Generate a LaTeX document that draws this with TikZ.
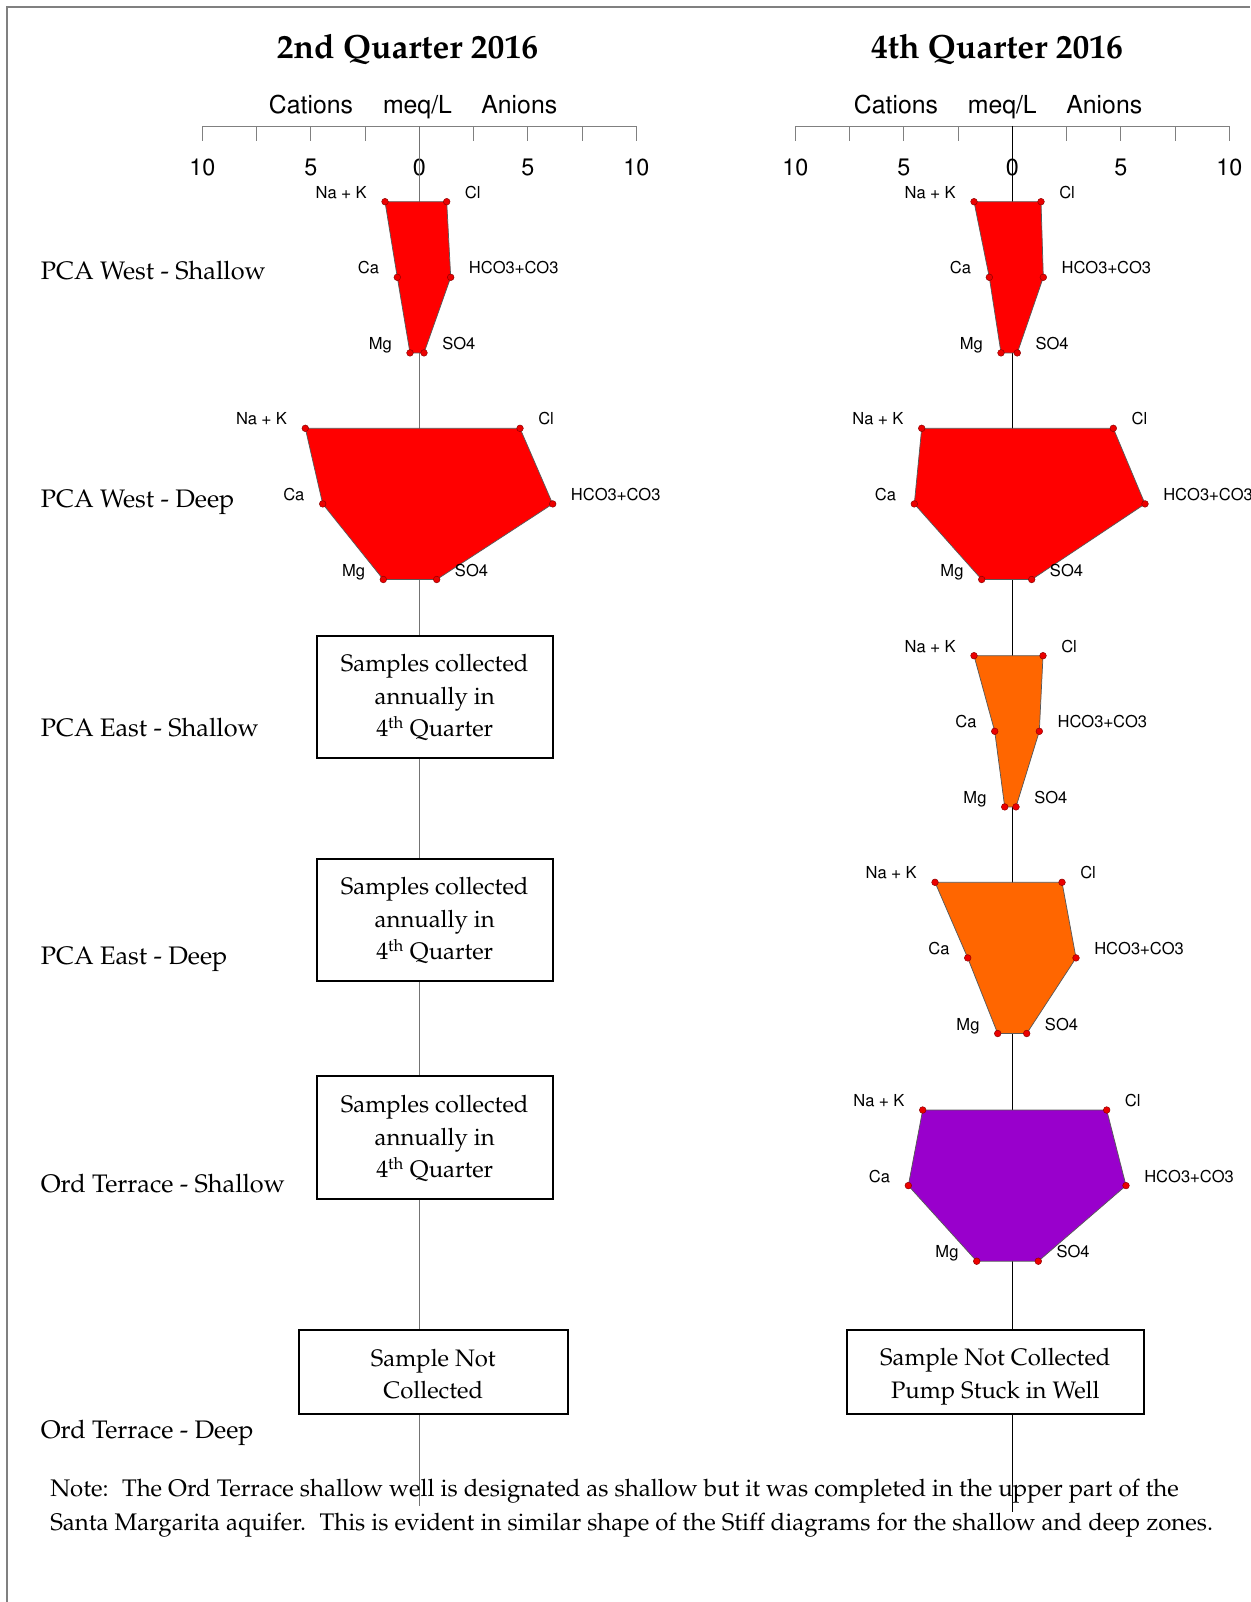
\documentclass[tikz,border=0pt]{standalone}
\usepackage[T1]{fontenc}
\usepackage{palatino}
\usetikzlibrary{calc}
\definecolor{polyred}{RGB}{255,0,0}
\definecolor{polyorange}{RGB}{255,102,0}
\definecolor{polypurple}{RGB}{153,0,204}
\definecolor{framegray}{RGB}{128,128,128}
\colorlet{stiffcol}{polyred}
\tikzset{
  polyedge/.style={draw=black!65, line width=0.55pt},
  vertexdot/.style={fill=red!92!black, draw=red!55!black, line width=0.35pt},
  ionlab/.style={inner sep=0pt, font=\sffamily\fontsize{12.4}{14}\selectfont},
  axlab/.style={inner sep=0pt, font=\sffamily\fontsize{18.6}{22}\selectfont},
  numlab/.style={inner sep=0pt, font=\sffamily\fontsize{17.5}{21}\selectfont},
  titlelab/.style={inner sep=0pt, font=\bfseries\fontsize{25.2}{30}\selectfont},
  rowlab/.style={inner sep=0pt, anchor=base west, font=\fontsize{19}{23}\selectfont},
  notelab/.style={inner sep=0pt, anchor=base west, font=\fontsize{18}{23}\selectfont},
  infobox/.style={draw, line width=1.5pt, fill=white, inner sep=0pt},
  boxtext/.style={inner sep=0pt, align=center, font=\fontsize{17.9}{24.4}\selectfont},
  axisline/.style={draw=framegray, line width=0.75pt},
}
\newcommand\stiffdiag[9]{%
  \coordinate (#1-nak) at ({#2-#4},{#3});
  \coordinate (#1-ca) at ({#2-#5},{#3+75.6});
  \coordinate (#1-mg) at ({#2-#6},{#3+151.2});
  \coordinate (#1-cl) at ({#2+#7},{#3});
  \coordinate (#1-hco) at ({#2+#8},{#3+75.6});
  \coordinate (#1-so) at ({#2+#9},{#3+151.2});
  \filldraw[polyedge, fill=stiffcol] (#1-nak) -- (#1-cl) -- (#1-hco) -- (#1-so) -- (#1-mg) -- (#1-ca) -- cycle;
  \foreach \q in {nak,ca,mg,cl,hco,so} {\filldraw[vertexdot] (#1-\q) circle[radius=2.5pt];}
  \node[ionlab, anchor=base east] (#1-lnak) at ([shift={(-18,-3.4)}]#1-nak) {Na + K};
  \node[ionlab, anchor=base east] (#1-lca) at ([shift={(-18,-3.4)}]#1-ca) {Ca};
  \node[ionlab, anchor=base east] (#1-lmg) at ([shift={(-18,-3.4)}]#1-mg) {Mg};
  \node[ionlab, anchor=base west] (#1-lcl) at ([shift={(18,-3.4)}]#1-cl) {Cl};
  \node[ionlab, anchor=base west] (#1-lhco) at ([shift={(18,-3.4)}]#1-hco) {HCO3+CO3};
  \node[ionlab, anchor=base west] (#1-lso) at ([shift={(18,-3.4)}]#1-so) {SO4};
}
% #1 prefix, #2 centre x, #3 #4 #5 offsets of Cations, meq/L, Anions
\newcommand\meqaxis[5]{%
  \coordinate (#1-axl) at ({#2-217},126);
  \coordinate (#1-axr) at ({#2+217},126);
  \draw[axisline] (#1-axl) -- (#1-axr);
  \foreach \k in {-4,-3,-2,-1,1,2,3,4} {\draw[axisline] ({#2+54.25*\k},126) -- ({#2+54.25*\k},140.7);}
  \node[numlab, anchor=base] (#1-n1) at ({#2-217},175) {10};
  \node[numlab, anchor=base] (#1-n2) at ({#2-108.5},175) {5};
  \node[numlab, anchor=base] (#1-n3) at ({#2},175) {0};
  \node[numlab, anchor=base] (#1-n4) at ({#2+108.5},175) {5};
  \node[numlab, anchor=base] (#1-n5) at ({#2+217},175) {10};
  \node[axlab, anchor=base] (#1-cat) at ({#2+#3},113.3) {Cations};
  \node[axlab, anchor=base] (#1-meq) at ({#2+#4},113.3) {meq/L};
  \node[axlab, anchor=base] (#1-an) at ({#2+#5},113.3) {Anions};
}
\begin{document}
\begin{tikzpicture}[x=0.75pt, y=-0.75pt]
\useasboundingbox (0,0) rectangle (1250,1602);
\fill[white] (0,0) rectangle (1250,1602);
% frame
\coordinate (fbl) at (7,1602);
\coordinate (ftl) at (7,7);
\coordinate (ftr) at (1250,7);
\draw[framegray, line width=0.9pt] (fbl) -- (ftl) -- (ftr);
% titles
\node[titlelab, anchor=base] (t2) at (407.5,58.3) {2nd Quarter 2016};
\node[titlelab, anchor=base] (t4) at (997,58.3) {4th Quarter 2016};
% axes
\meqaxis{L}{419.3}{-108.3}{-1.8}{100}
\meqaxis{R}{1012.3}{-116.3}{-10}{92}
% centre lines
\coordinate (Ltop) at (419.3,126);
\coordinate (Lbot) at (419.3,1506);
\coordinate (Rtop) at (1012.3,126);
\coordinate (Rbot) at (1012.3,1512);
\draw[black!55, line width=0.7pt] (Ltop) -- (Lbot);
\draw[black, line width=1.1pt] (Rtop) -- (Rbot);
% row labels
\node[rowlab] (r1) at (40.5,279.5) {PCA West - Shallow};
\node[rowlab] (r2) at (40.5,507.8) {PCA West - Deep};
\node[rowlab] (r3) at (40.5,736.1) {PCA East - Shallow};
\node[rowlab] (r4) at (40.5,964.4) {PCA East - Deep};
\node[rowlab] (r5) at (40.5,1192.7) {Ord Terrace - Shallow};
\node[rowlab] (r6) at (40.5,1438.3) {Ord Terrace - Deep};
% stiff diagrams, 2nd quarter
\colorlet{stiffcol}{polyred}
\stiffdiag{LWS}{419.3}{201.7}{34.3}{22}{9.3}{27.4}{31.4}{4.7}
\stiffdiag{LWD}{419.3}{428.3}{114}{96.6}{36}{100.7}{133.4}{17.4}
% stiff diagrams, 4th quarter
\stiffdiag{RWS}{1012.3}{201.7}{38.3}{23}{11.3}{28.7}{31}{5}
\stiffdiag{RWD}{1012.3}{428.3}{90.6}{98}{30.6}{101}{132.7}{19.4}
\colorlet{stiffcol}{polyorange}
\stiffdiag{RES}{1012.3}{655.7}{38.3}{17.6}{7.6}{30.7}{27}{3.7}
\stiffdiag{RED}{1012.3}{882.3}{77.3}{44.6}{14.6}{49.7}{63.7}{14.4}
\colorlet{stiffcol}{polypurple}
\stiffdiag{ROS}{1012.3}{1110}{89.6}{104}{35.6}{94.4}{113.7}{26}
% boxes
\node[infobox, minimum width=177pt, minimum height=92pt] (b1) at (434.7,697) {};
\node[boxtext] (b1t) at (434.7,698) {Samples collected\\annually in\\4\textsuperscript{th} Quarter};
\node[infobox, minimum width=177pt, minimum height=92pt] (b2) at (434.7,919.9) {};
\node[boxtext] (b2t) at (434.7,920.9) {Samples collected\\annually in\\4\textsuperscript{th} Quarter};
\node[infobox, minimum width=177pt, minimum height=92pt] (b3) at (434.7,1137.7) {};
\node[boxtext] (b3t) at (434.7,1138.7) {Samples collected\\annually in\\4\textsuperscript{th} Quarter};
\node[infobox, minimum width=202.1pt, minimum height=63pt] (b4) at (433.3,1372) {};
\node[boxtext] (b4t) at (433.3,1374) {Sample Not\\Collected};
\node[infobox, minimum width=222.5pt, minimum height=63pt] (b5) at (995.3,1372) {};
\node[boxtext] (b5t) at (995.3,1376.5) {Sample Not Collected\\Pump Stuck in Well};
% note
\node[notelab] (n1) at (50,1496.7) {Note:~ The Ord Terrace shallow well is designated as shallow but it was completed in the upper part of the};
\node[notelab] (n2) at (50,1530) {Santa Margarita aquifer.~ This is evident in similar shape of the Stiff diagrams for the shallow and deep zones.};
\end{tikzpicture}
\end{document}
